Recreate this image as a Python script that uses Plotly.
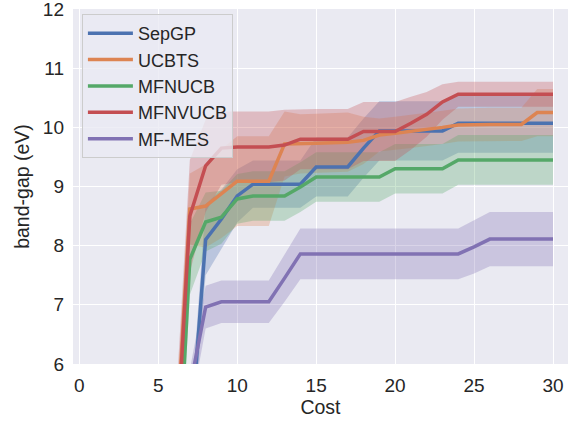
import plotly.graph_objects as go
import numpy as np

cost = list(range(6, 31))

sepgp_mean = [3.0, 4.6, 8.10, 8.45, 8.84, 9.04, 9.04, 9.04, 9.04, 9.33, 9.33, 9.33, 9.65,
              9.94, 9.94, 9.94, 9.94, 9.94, 10.07, 10.07, 10.07, 10.07, 10.07, 10.07, 10.07]
sepgp_std = [0.3, 0.4, 0.6, 0.5, 0.45, 0.4, 0.4, 0.4, 0.4, 0.5, 0.5, 0.5, 0.5,
             0.5, 0.5, 0.5, 0.5, 0.5, 0.5, 0.5, 0.5, 0.5, 0.5, 0.5, 0.5]

ucbts_mean = [4.0, 8.62, 8.67, 8.88, 9.09, 9.09, 9.09, 9.72, 9.72, 9.73, 9.74, 9.75, 9.78,
              9.87, 9.90, 9.93, 9.96, 10.00, 10.04, 10.05, 10.05, 10.05, 10.05, 10.25, 10.25]
ucbts_std = [0.5, 0.6, 0.7, 0.75, 0.76, 0.76, 0.76, 0.55, 0.5, 0.5, 0.5, 0.5, 0.4,
             0.28, 0.28, 0.28, 0.28, 0.28, 0.28, 0.28, 0.28, 0.28, 0.28, 0.4, 0.4]

mfnucb_mean = [2.7, 7.77, 8.40, 8.48, 8.79, 8.84, 8.84, 8.84, 8.99, 9.16, 9.16, 9.16, 9.16,
               9.16, 9.30, 9.30, 9.30, 9.30, 9.45, 9.45, 9.45, 9.45, 9.45, 9.45, 9.45]
mfnucb_std = [0.5, 0.6, 0.5, 0.45, 0.42, 0.42, 0.42, 0.42, 0.42, 0.42, 0.42, 0.42, 0.42,
              0.42, 0.42, 0.42, 0.42, 0.42, 0.42, 0.42, 0.42, 0.42, 0.42, 0.42, 0.42]

mfnvucb_mean = [3.8, 8.50, 9.35, 9.65, 9.67, 9.67, 9.67, 9.70, 9.80, 9.80, 9.80, 9.80, 9.93,
                9.93, 9.93, 10.07, 10.22, 10.43, 10.56, 10.56, 10.56, 10.56, 10.56, 10.56, 10.56]
mfnvucb_std = [1.0, 0.95, 0.78, 0.62, 0.6, 0.6, 0.6, 0.6, 0.51, 0.51, 0.51, 0.51, 0.5,
               0.5, 0.5, 0.45, 0.38, 0.3, 0.21, 0.21, 0.21, 0.21, 0.21, 0.21, 0.21]

mfmes_mean = [4.0, 5.6, 6.96, 7.05, 7.05, 7.05, 7.05, 7.45, 7.86, 7.86, 7.86, 7.86, 7.86,
              7.86, 7.86, 7.86, 7.86, 7.86, 7.86, 7.98, 8.11, 8.11, 8.11, 8.11, 8.11]
mfmes_std = [0.3, 0.3, 0.36, 0.36, 0.36, 0.36, 0.36, 0.4, 0.43, 0.43, 0.43, 0.43, 0.43,
             0.43, 0.43, 0.43, 0.43, 0.43, 0.43, 0.45, 0.46, 0.46, 0.46, 0.46, 0.46]

x_ticks = [0, 5, 10, 15, 20, 25, 30]
y_ticks = [6, 7, 8, 9, 10, 11, 12]

series = [
    ("SepGP", sepgp_mean, sepgp_std, (76, 114, 176)),
    ("UCBTS", ucbts_mean, ucbts_std, (221, 132, 82)),
    ("MFNUCB", mfnucb_mean, mfnucb_std, (85, 168, 104)),
    ("MFNVUCB", mfnvucb_mean, mfnvucb_std, (196, 78, 82)),
    ("MF-MES", mfmes_mean, mfmes_std, (129, 114, 179)),
]

FONT = "Liberation Sans, Arial, sans-serif"
fig = go.Figure()

# bands
for name, m, s, c in series:
    m = np.array(m); s = np.array(s)
    up = m + s; lo = m - s
    fig.add_trace(go.Scatter(
        x=cost + cost[::-1], y=list(up) + list(lo[::-1]),
        fill="toself", fillcolor="rgba(%d,%d,%d,0.3)" % c,
        line=dict(width=0), mode="lines", hoverinfo="skip", showlegend=False))

# lines
for name, m, s, c in series:
    fig.add_trace(go.Scatter(
        x=cost, y=m, mode="lines", name=name,
        line=dict(color="rgb(%d,%d,%d)" % c, width=3.5)))

axis_common = dict(
    showgrid=True, gridcolor="white", gridwidth=1.2, zeroline=False,
    showline=False, ticks="", automargin=False, ticklabeloverflow="allow",
    tickfont=dict(family=FONT, size=19, color="#262626"),
)

fig.update_layout(
    width=568, height=425,
    margin=dict(l=73, r=0, t=9, b=61),
    paper_bgcolor="white", plot_bgcolor="#EAEAF2",
    font=dict(family=FONT, color="#262626"),
    xaxis=dict(range=[-0.40, 30.95], tickvals=x_ticks,
               title=dict(text="Cost", font=dict(family=FONT, size=19.5, color="#262626"), standoff=4),
               ticklabelstandoff=8,
               **axis_common),
    yaxis=dict(range=[5.998, 12.002], tickvals=y_ticks,
               title=dict(text="band-gap (eV)", font=dict(family=FONT, size=19.5, color="#262626"), standoff=8),
               ticklabelstandoff=8,
               **axis_common),
    legend=dict(x=0.018, y=0.986, xanchor="left", yanchor="top",
                bgcolor="rgba(234,234,242,0.8)", bordercolor="#CCCCCC", borderwidth=1,
                font=dict(family=FONT, size=18, color="#262626"),
                itemwidth=45),
    showlegend=True,
)

fig.write_html("out.html", config={"displayModeBar": False},
               post_script="document.body.style.margin='0';")
